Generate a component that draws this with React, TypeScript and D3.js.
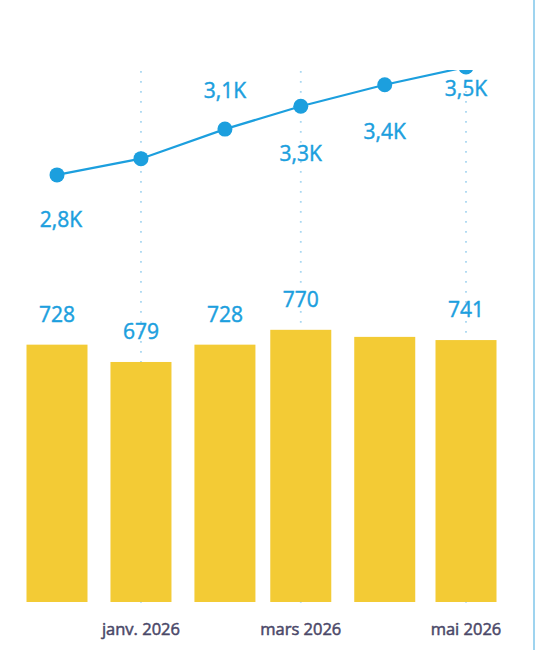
import React from "react";
import * as d3 from "d3";

const months: string[] = ["2025-12-01", "2026-01-01", "2026-02-01", "2026-03-01", "2026-04-01", "2026-05-01"];
const barValues: number[] = [728, 679, 728, 770, 750, 741];
const showBarLabel: boolean[] = [true, true, true, true, false, true];
const lineValues: number[] = [2790, 2900, 3100, 3255, 3400, 3520];
const lineLabelOffset: (number | null)[] = [52, null, -31, 55, 54, 29];
const tickDates: string[] = ["2026-01-01", "2026-03-01", "2026-05-01"];

const W = 539;
const H = 650;
const plotTop = 70;
const plotBottom = 602;

const parse = d3.timeParse("%Y-%m-%d");
const frMonth = (d: Date) => {
  const names = ["janv.", "févr.", "mars", "avr.", "mai", "juin", "juil.", "août", "sept.", "oct.", "nov.", "déc."];
  return `${names[d.getMonth()]} ${d.getFullYear()}`;
};
const fmtK = (v: number) => (v / 1000).toFixed(1).replace(".", ",") + "K";

export default function App() {
  const dates = months.map((m) => parse(m) as Date);
  const x = d3.scaleTime().domain([dates[0], dates[dates.length - 1]]).range([57, 466]);
  const yBar = d3.scaleLinear().domain([0, 1505]).range([plotBottom, 70]);
  const yLine = d3.scaleLinear().domain([-100, 3500]).range([plotBottom, 70]);
  const barW = 61;
  const ticks = tickDates.map((t) => parse(t) as Date);

  const line = d3
    .line<number>()
    .x((_, i) => x(dates[i]))
    .y((v) => yLine(v));

  const labelFont = "'Segoe UI', 'Open Sans', sans-serif";
  const blue = "#1c9fde";

  return (
    <svg
      width={W}
      height={H}
      style={{ position: "absolute", left: 0, top: 0, background: "#fff" }}
    >
      <defs>
        <clipPath id="plotClip">
          <rect x={0} y={plotTop} width={530} height={plotBottom - plotTop + 10} />
        </clipPath>
      </defs>
      {/* dotted gridlines */}
      {ticks.map((t, i) => (
        <line
          key={"g" + i}
          x1={x(t)}
          x2={x(t)}
          y1={71}
          y2={607}
          stroke="#a9d7f1"
          strokeWidth={1.8}
          strokeDasharray="1.8,8.2"
        />
      ))}
      {/* bars */}
      {barValues.map((v, i) => (
        <rect
          key={"b" + i}
          x={x(dates[i]) - barW / 2}
          y={yBar(v)}
          width={barW}
          height={plotBottom - yBar(v)}
          fill="#f3cb35"
        />
      ))}
      {/* bar labels */}
      {barValues.map((v, i) =>
        showBarLabel[i] ? (
          <text
            key={"bl" + i}
            x={x(dates[i])}
            y={yBar(v) - 23}
            textAnchor="middle"
            fontFamily={labelFont}
            fontSize={21}
            fill={blue}
            stroke={blue}
            strokeWidth={0.45}
          >
            {v}
          </text>
        ) : null
      )}
      {/* line and points */}
      <g clipPath="url(#plotClip)">
        <path d={line(lineValues) || ""} fill="none" stroke={blue} strokeWidth={2.2} />
        {lineValues.map((v, i) => (
          <circle key={"p" + i} cx={x(dates[i])} cy={yLine(v)} r={7.5} fill={blue} />
        ))}
      </g>
      {/* line labels */}
      {lineValues.map((v, i) =>
        lineLabelOffset[i] !== null ? (
          <text
            key={"ll" + i}
            x={x(dates[i]) + (i === 0 ? 4 : 0)}
            y={yLine(v) + (lineLabelOffset[i] as number)}
            textAnchor="middle"
            fontFamily={labelFont}
            fontSize={21}
            fill={blue}
            stroke={blue}
            strokeWidth={0.45}
          >
            {fmtK(v)}
          </text>
        ) : null
      )}
      {/* x-axis tick labels */}
      {ticks.map((t, i) => (
        <text
          key={"t" + i}
          x={x(t)}
          y={635}
          textAnchor="middle"
          fontFamily={labelFont}
          fontSize={16.5}
          fill="#4a4868"
          stroke="#4a4868"
          strokeWidth={0.5}
        >
          {frMonth(t)}
        </text>
      ))}
      {/* right border */}
      <line x1={534} x2={534} y1={0} y2={H} stroke="#9fd4ef" strokeWidth={2} />
    </svg>
  );
}
